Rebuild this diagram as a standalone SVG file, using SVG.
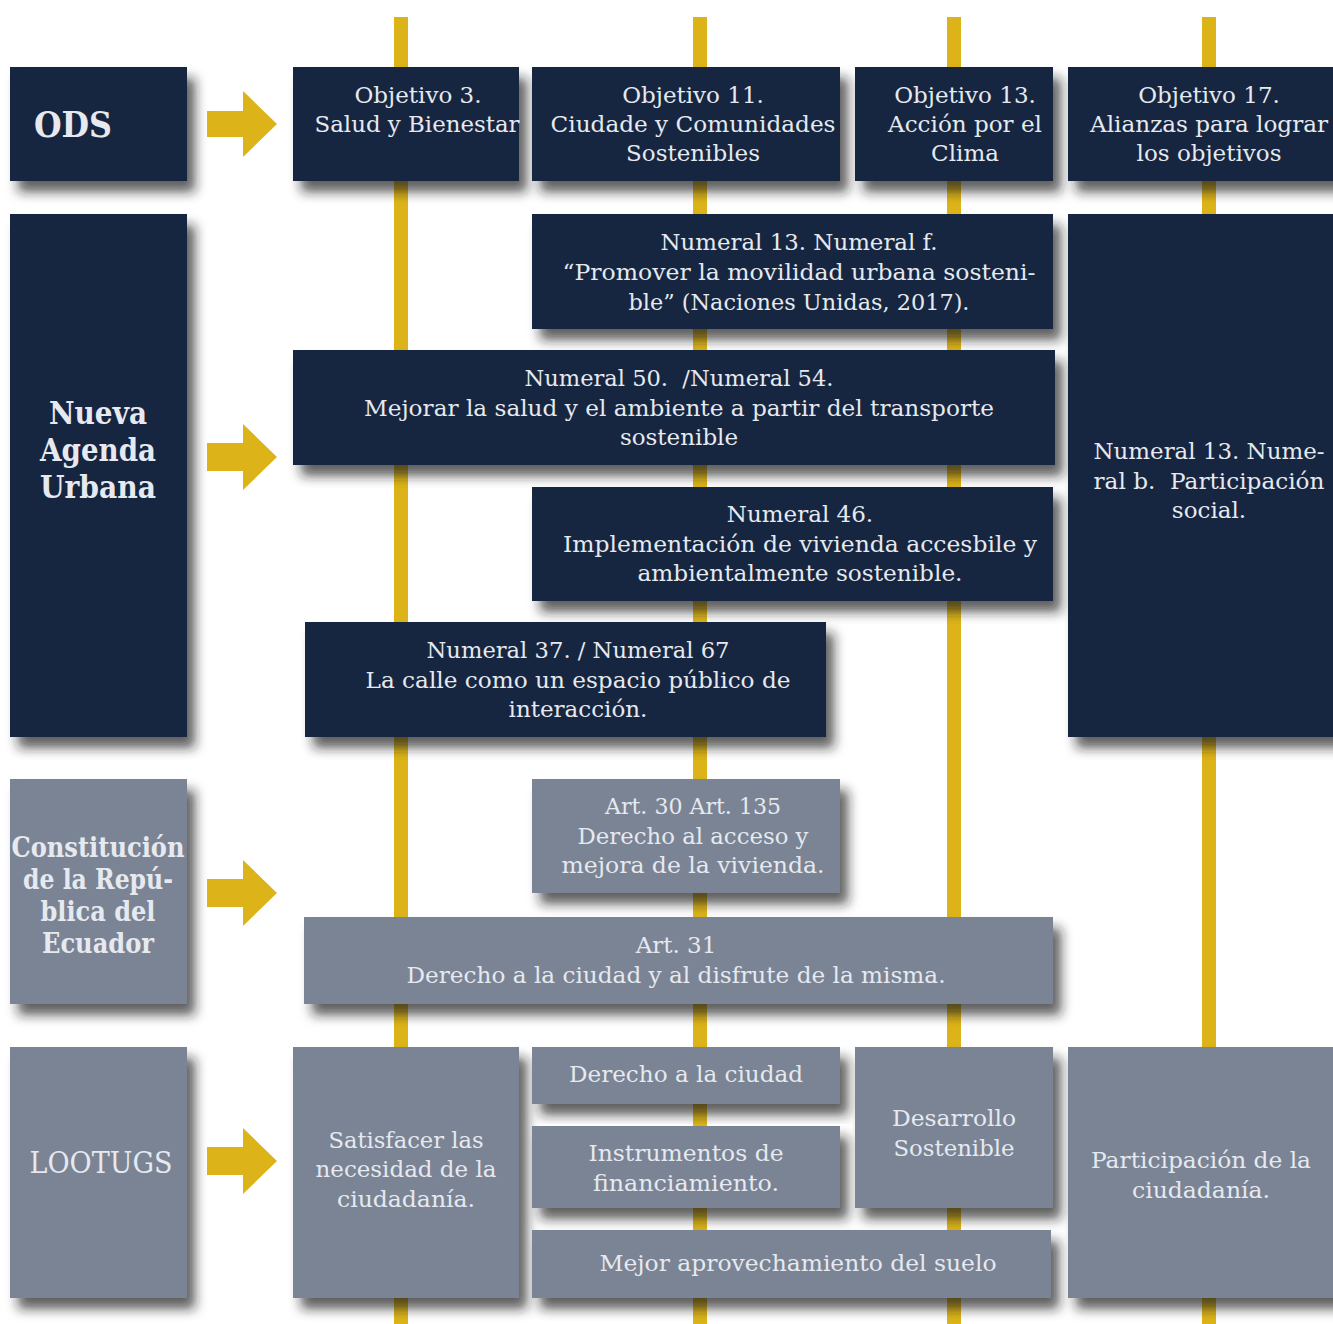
<svg xmlns="http://www.w3.org/2000/svg" width="1333" height="1324" viewBox="0 0 1333 1324">
<defs>
<filter id="sh" x="-10%" y="-15%" width="130%" height="150%">
<feDropShadow dx="8" dy="11" stdDeviation="6" flood-color="#1e1e1e" flood-opacity="0.7"/>
</filter>
</defs>
<style>
.dk{fill:#16253f;filter:url(#sh)}
.gr{fill:#7a8494;filter:url(#sh)}
text{font-family:"DejaVu Serif","Liberation Serif",serif;font-size:23px;fill:#e6e9ef;text-anchor:middle}
.b{font-weight:bold}
.t36{font-size:36px}
.t31{font-size:31px}
.t27{font-size:27px}
.t30{font-size:30px}
.ln{fill:#dcb419}
</style>
<rect width="1333" height="1324" fill="#ffffff"/>
<g id="connectors">
<rect class="ln" x="394" y="17" width="14" height="1307"/>
<rect class="ln" x="693" y="17" width="14" height="1307"/>
<rect class="ln" x="947" y="17" width="14" height="1307"/>
<rect class="ln" x="1202" y="17" width="14" height="1307"/>
<path class="ln" d="M207,111 H243 V91 L277,124 L243,157 V137 H207 Z"/>
<path class="ln" d="M207,443 H243 V424 L277,457 L243,490 V471 H207 Z"/>
<path class="ln" d="M207,879 H243 V860 L277,893 L243,926 V907 H207 Z"/>
<path class="ln" d="M207,1147 H243 V1128 L277,1161 L243,1194 V1175 H207 Z"/>
</g>
<g id="ods"><rect class="dk" x="10" y="67" width="177" height="114"/><text class="b t36" x="73" y="137" textLength="78" lengthAdjust="spacingAndGlyphs">ODS</text></g>
<g id="obj3"><rect class="dk" x="293" y="67" width="226" height="114"/><text x="418" y="103">Objetivo 3.</text><text x="417" y="132" textLength="205" lengthAdjust="spacingAndGlyphs">Salud y Bienestar</text></g>
<g id="obj11"><rect class="dk" x="532" y="67" width="308" height="114"/><text x="693" y="103">Objetivo 11.</text><text x="693" y="132" textLength="285" lengthAdjust="spacingAndGlyphs">Ciudade y Comunidades</text><text x="693" y="161">Sostenibles</text></g>
<g id="obj13"><rect class="dk" x="855" y="67" width="198" height="114"/><text x="965" y="103">Objetivo 13.</text><text x="965" y="132" textLength="154" lengthAdjust="spacingAndGlyphs">Acción por el</text><text x="965" y="161">Clima</text></g>
<g id="obj17"><rect class="dk" x="1068" y="67" width="275" height="114"/><text x="1209" y="103">Objetivo 17.</text><text x="1209" y="132" textLength="238" lengthAdjust="spacingAndGlyphs">Alianzas para lograr</text><text x="1209" y="161">los objetivos</text></g>

<g id="nau"><rect class="dk" x="10" y="214" width="177" height="523"/><text class="b t31" x="98" y="424" textLength="98" lengthAdjust="spacingAndGlyphs">Nueva</text><text class="b t31" x="98" y="461" textLength="116" lengthAdjust="spacingAndGlyphs">Agenda</text><text class="b t31" x="98" y="498" textLength="116" lengthAdjust="spacingAndGlyphs">Urbana</text></g>
<g id="n13f"><rect class="dk" x="532" y="214" width="521" height="115"/><text x="799" y="250" textLength="277" lengthAdjust="spacingAndGlyphs">Numeral 13. Numeral f.</text><text x="799" y="280" textLength="473" lengthAdjust="spacingAndGlyphs">“Promover la movilidad urbana sosteni-</text><text x="799" y="310" textLength="341" lengthAdjust="spacingAndGlyphs">ble” (Naciones Unidas, 2017).</text></g>
<g id="n50"><rect class="dk" x="293" y="350" width="762" height="115"/><text x="679" y="386" textLength="309" lengthAdjust="spacingAndGlyphs" xml:space="preserve">Numeral 50.  /Numeral 54.</text><text x="679" y="416" textLength="630" lengthAdjust="spacingAndGlyphs">Mejorar la salud y el ambiente a partir del transporte</text><text x="679" y="445">sostenible</text></g>
<g id="n46"><rect class="dk" x="532" y="487" width="521" height="114"/><text x="800" y="522">Numeral 46.</text><text x="800" y="552" textLength="474" lengthAdjust="spacingAndGlyphs">Implementación de vivienda accesbile y</text><text x="800" y="581" textLength="325" lengthAdjust="spacingAndGlyphs">ambientalmente sostenible.</text></g>
<g id="n37"><rect class="dk" x="305" y="622" width="521" height="115"/><text x="578" y="658" textLength="303" lengthAdjust="spacingAndGlyphs">Numeral 37. / Numeral 67</text><text x="578" y="688" textLength="425" lengthAdjust="spacingAndGlyphs">La calle como un espacio público de</text><text x="578" y="717">interacción.</text></g>
<g id="n13b"><rect class="dk" x="1068" y="214" width="275" height="523"/><text x="1209" y="459" textLength="231" lengthAdjust="spacingAndGlyphs">Numeral 13. Nume-</text><text x="1209" y="489" textLength="231" lengthAdjust="spacingAndGlyphs" xml:space="preserve">ral b.  Participación</text><text x="1209" y="518">social.</text></g>

<g id="constitucion"><rect class="gr" x="10" y="779" width="177" height="225"/><text class="b t27" x="98" y="857" textLength="173" lengthAdjust="spacingAndGlyphs">Constitución</text><text class="b t27" x="98" y="889" textLength="150" lengthAdjust="spacingAndGlyphs">de la Repú-</text><text class="b t27" x="98" y="921" textLength="115" lengthAdjust="spacingAndGlyphs">blica del</text><text class="b t27" x="98" y="953" textLength="112" lengthAdjust="spacingAndGlyphs">Ecuador</text></g>
<g id="art30"><rect class="gr" x="532" y="779" width="308" height="114"/><text x="693" y="814" textLength="176" lengthAdjust="spacingAndGlyphs">Art. 30 Art. 135</text><text x="693" y="844" textLength="231" lengthAdjust="spacingAndGlyphs">Derecho al acceso y</text><text x="693" y="873" textLength="263" lengthAdjust="spacingAndGlyphs">mejora de la vivienda.</text></g>
<g id="art31"><rect class="gr" x="304" y="917" width="749" height="87"/><text x="676" y="953">Art. 31</text><text x="676" y="983" textLength="539" lengthAdjust="spacingAndGlyphs">Derecho a la ciudad y al disfrute de la misma.</text></g>

<g id="lootugs"><rect class="gr" x="10" y="1047" width="177" height="251"/><text class="t30" x="101" y="1173" textLength="143" lengthAdjust="spacingAndGlyphs">LOOTUGS</text></g>
<g id="satisfacer"><rect class="gr" x="293" y="1047" width="226" height="251"/><text x="406" y="1148" textLength="155" lengthAdjust="spacingAndGlyphs">Satisfacer las</text><text x="406" y="1177" textLength="181" lengthAdjust="spacingAndGlyphs">necesidad de la</text><text x="406" y="1207" textLength="138" lengthAdjust="spacingAndGlyphs">ciudadanía.</text></g>
<g id="derecho"><rect class="gr" x="532" y="1047" width="308" height="57"/><text x="686" y="1082" textLength="234" lengthAdjust="spacingAndGlyphs">Derecho a la ciudad</text></g>
<g id="instrumentos"><rect class="gr" x="532" y="1126" width="308" height="82"/><text x="686" y="1161" textLength="195" lengthAdjust="spacingAndGlyphs">Instrumentos de</text><text x="686" y="1191" textLength="186" lengthAdjust="spacingAndGlyphs">financiamiento.</text></g>
<g id="desarrollo"><rect class="gr" x="855" y="1047" width="198" height="161"/><text x="954" y="1126" textLength="124" lengthAdjust="spacingAndGlyphs">Desarrollo</text><text x="954" y="1156" textLength="121" lengthAdjust="spacingAndGlyphs">Sostenible</text></g>
<g id="mejor"><rect class="gr" x="532" y="1230" width="519" height="68"/><text x="798" y="1271" textLength="397" lengthAdjust="spacingAndGlyphs">Mejor aprovechamiento del suelo</text></g>
<g id="participacion"><rect class="gr" x="1068" y="1047" width="275" height="251"/><text x="1201" y="1168" textLength="220" lengthAdjust="spacingAndGlyphs">Participación de la</text><text x="1201" y="1198" textLength="138" lengthAdjust="spacingAndGlyphs">ciudadanía.</text></g>
</svg>
